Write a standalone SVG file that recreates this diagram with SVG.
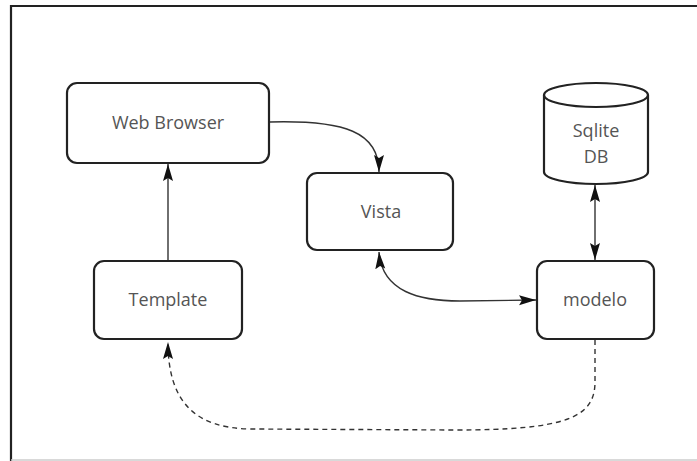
<svg xmlns="http://www.w3.org/2000/svg" width="697" height="461" viewBox="0 0 697 461">
<style>
.box{fill:#fff;stroke:#222;stroke-width:2.2}
.lbl{font-family:"Open Sans","Noto Sans",sans-serif;font-size:18px;fill:#555;text-anchor:middle}
.conn{fill:none;stroke:#333;stroke-width:1.4}
.dash{stroke-dasharray:5,4}
</style>
<defs>
<marker id="ah" viewBox="0 0 17 11" refX="17" refY="5.5" markerWidth="17" markerHeight="11" markerUnits="userSpaceOnUse" orient="auto-start-reverse">
<path d="M0,0.5 L17,5.5 L0,10.5 L3,5.5 Z" fill="#111"/>
</marker>
</defs>
<rect width="697" height="461" fill="#fff"/>
<g id="frame">
<line x1="10" y1="6" x2="697" y2="6" stroke="#222" stroke-width="2.2"/>
<line x1="11" y1="5" x2="11" y2="461" stroke="#222" stroke-width="2.2"/>
<line x1="11" y1="460" x2="697" y2="460" stroke="#ccc" stroke-width="1.5"/>
</g>
<g id="connectors">
<path class="conn" d="M168,261 L168,164" marker-end="url(#ah)"/>
<path class="conn" d="M270,122 C345,120 379,132 379,172" marker-end="url(#ah)"/>
<path class="conn" d="M379,252 C382,292 420,301 460,301 L536,300" marker-start="url(#ah)" marker-end="url(#ah)"/>
<path class="conn" d="M595,185 L595,260" marker-start="url(#ah)" marker-end="url(#ah)"/>
<path class="conn dash" d="M595,340 L595,382 C595,418 565,430 455,430 L250,429 C195,428 168,402 168,342" marker-end="url(#ah)"/>
</g>
<g id="web-browser">
<rect class="box" x="67" y="83" width="202" height="80" rx="10"/>
<text class="lbl" x="168" y="129">Web Browser</text>
</g>
<g id="vista">
<rect class="box" x="307" y="173" width="146" height="77" rx="10"/>
<text class="lbl" x="381" y="218">Vista</text>
</g>
<g id="sqlite-db">
<path class="box" d="M544,95 L544,172 A52,12 0 0 0 648,172 L648,95"/>
<ellipse class="box" cx="596" cy="95" rx="52" ry="12"/>
<text class="lbl" x="596" y="137">Sqlite</text>
<text class="lbl" x="596" y="163">DB</text>
</g>
<g id="template">
<rect class="box" x="94" y="261" width="148" height="78" rx="10"/>
<text class="lbl" x="168" y="306">Template</text>
</g>
<g id="modelo">
<rect class="box" x="537" y="261" width="117" height="78" rx="10"/>
<text class="lbl" x="595" y="306">modelo</text>
</g>
</svg>
